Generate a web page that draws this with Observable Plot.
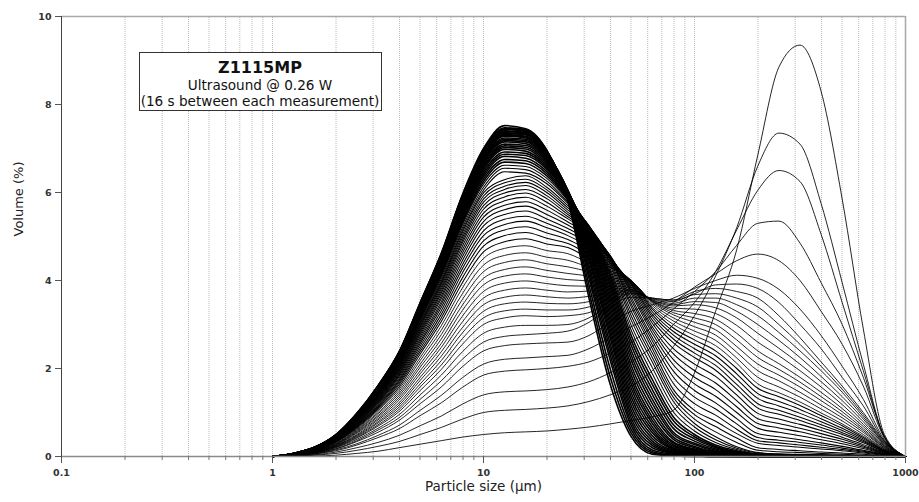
<!DOCTYPE html>
<html><head><meta charset="utf-8">
<script src="https://cdn.jsdelivr.net/npm/d3@7"></script>
<script src="https://cdn.jsdelivr.net/npm/@observablehq/plot@0.6"></script>
<style>
body{margin:0;background:#fff;}
#wrap{position:relative;width:919px;height:502px;}
</style></head><body><div id="wrap"></div><script>
// Size classes (µm)
const sizes = [1, 1.259, 1.585, 1.995, 2.512, 3.162, 3.981, 5.012, 6.31, 7.943, 10, 12.59, 15.85, 19.95, 25.12, 31.62, 39.81, 50.12, 63.1, 79.43, 100, 125.9, 158.5, 199.5, 251.2, 316.2, 398.1, 501.2, 631, 794.3, 1000];
// Volume (%) of each successive measurement (16 s apart)
const m01 = [0,0,0.01,0.03,0.07,0.12,0.2,0.28,0.36,0.44,0.5,0.54,0.56,0.58,0.62,0.67,0.74,0.82,0.9,1.05,1.9,3.3,4.7,6.85,8.85,9.35,8.3,5.85,2.9,0.5,0];
const m02 = [0,0.01,0.03,0.07,0.14,0.23,0.34,0.5,0.66,0.85,1.0,1.05,1.07,1.1,1.15,1.25,1.4,1.6,1.95,2.5,3.2,4.1,5.2,6.6,7.35,7.1,5.75,3.95,2.1,0.45,0];
const m03 = [0,0.01,0.04,0.1,0.2,0.32,0.48,0.7,0.92,1.19,1.4,1.47,1.49,1.52,1.58,1.7,1.9,2.15,2.5,3.0,3.5,4.2,5.15,6.05,6.5,6.25,5.05,3.5,1.95,0.45,0];
const m04 = [0,0.02,0.06,0.13,0.26,0.43,0.63,0.93,1.22,1.57,1.85,1.94,1.97,2.0,2.05,2.15,2.35,2.6,2.95,3.35,3.75,4.2,4.8,5.3,5.35,4.85,3.95,3.0,1.8,0.45,0];
const m05 = [0,0.02,0.06,0.15,0.29,0.48,0.71,1.05,1.39,1.79,2.1,2.21,2.24,2.27,2.3,2.45,2.7,2.95,3.2,3.5,3.85,4.15,4.45,4.6,4.45,4.0,3.3,2.55,1.6,0.42,0];
const m06 = [0,0.02,0.07,0.17,0.34,0.55,0.82,1.2,1.58,2.04,2.4,2.52,2.56,2.58,2.6,2.75,3.05,3.3,3.45,3.6,3.82,4.0,4.12,4.05,3.8,3.35,2.75,2.05,1.3,0.38,0];
const m07 = [0,0.03,0.08,0.18,0.36,0.6,0.88,1.3,1.72,2.21,2.6,2.73,2.77,2.8,2.85,3.05,3.4,3.62,3.6,3.55,3.7,3.9,3.92,3.82,3.5,3.0,2.45,1.8,1.15,0.35,0];
const m08 = [0,0.03,0.08,0.2,0.39,0.64,0.95,1.4,1.85,2.38,2.8,2.94,2.98,2.98,3.0,3.15,3.45,3.7,3.6,3.56,3.75,3.82,3.75,3.6,3.2,2.7,2.15,1.6,1.0,0.35,0];
const m09 = [0,0.03,0.09,0.21,0.42,0.69,1.02,1.5,1.98,2.55,3.0,3.15,3.2,3.18,3.2,3.27,3.52,3.72,3.59,3.52,3.68,3.7,3.6,3.4,3.0,2.55,2.05,1.53,0.95,0.33,0];
const m10 = [0,0.03,0.09,0.22,0.44,0.72,1.07,1.58,2.08,2.68,3.15,3.31,3.35,3.33,3.33,3.4,3.59,3.75,3.58,3.48,3.6,3.6,3.45,3.2,2.82,2.4,1.95,1.46,0.9,0.31,0];
const m11 = [0,0.03,0.1,0.23,0.46,0.76,1.12,1.65,2.18,2.81,3.3,3.47,3.51,3.48,3.47,3.52,3.66,3.78,3.56,3.45,3.52,3.5,3.3,3.0,2.64,2.25,1.82,1.36,0.85,0.3,0];
const m12 = [0,0.03,0.1,0.24,0.48,0.79,1.17,1.73,2.28,2.93,3.45,3.62,3.67,3.63,3.6,3.64,3.72,3.8,3.55,3.42,3.45,3.38,3.15,2.8,2.46,2.1,1.7,1.27,0.79,0.28,0];
const m13 = [0,0.04,0.11,0.25,0.5,0.83,1.22,1.8,2.38,3.06,3.6,3.78,3.83,3.78,3.74,3.76,3.79,3.84,3.54,3.37,3.35,3.25,2.98,2.6,2.29,1.95,1.58,1.18,0.73,0.26,0];
const m14 = [0,0.04,0.11,0.26,0.53,0.86,1.28,1.88,2.48,3.19,3.75,3.94,3.99,3.93,3.88,3.87,3.86,3.88,3.53,3.32,3.25,3.12,2.8,2.4,2.11,1.8,1.46,1.09,0.68,0.24,0];
const m15 = [0,0.04,0.12,0.27,0.55,0.9,1.33,1.95,2.57,3.32,3.9,4.1,4.15,4.08,4.02,3.99,3.93,3.92,3.52,3.27,3.15,3.0,2.65,2.25,1.98,1.69,1.36,1.02,0.63,0.23,0];
const m16 = [0,0.04,0.12,0.28,0.57,0.93,1.38,2.03,2.67,3.44,4.05,4.25,4.31,4.23,4.16,4.1,4.0,3.95,3.5,3.22,3.05,2.88,2.5,2.1,1.85,1.58,1.27,0.95,0.59,0.21,0];
const m17 = [0,0.04,0.13,0.29,0.59,0.97,1.43,2.1,2.77,3.57,4.2,4.41,4.47,4.38,4.31,4.2,4.07,3.97,3.47,3.15,2.95,2.76,2.37,1.95,1.72,1.46,1.17,0.88,0.55,0.2,0];
const m18 = [0,0.04,0.13,0.3,0.61,1.0,1.48,2.18,2.87,3.7,4.35,4.57,4.63,4.53,4.46,4.3,4.15,3.99,3.43,3.08,2.85,2.64,2.24,1.8,1.58,1.35,1.08,0.81,0.5,0.18,0];
const m19 = [0,0.05,0.14,0.32,0.63,1.04,1.53,2.25,2.97,3.83,4.5,4.73,4.79,4.68,4.61,4.4,4.22,4.0,3.39,3.0,2.75,2.52,2.12,1.65,1.45,1.24,0.99,0.74,0.46,0.17,0];
const m20 = [0,0.05,0.14,0.33,0.65,1.07,1.58,2.33,3.07,3.95,4.65,4.88,4.95,4.83,4.75,4.5,4.3,4.0,3.35,2.92,2.65,2.4,2.0,1.55,1.36,1.16,0.93,0.7,0.43,0.15,0];
const m21 = [0,0.05,0.14,0.33,0.67,1.1,1.63,2.39,3.15,4.06,4.78,5.02,5.09,4.96,4.84,4.59,4.35,3.98,3.29,2.84,2.55,2.29,1.88,1.43,1.25,1.07,0.86,0.64,0.4,0.14,0];
const m22 = [0,0.05,0.15,0.34,0.69,1.13,1.67,2.45,3.23,4.17,4.9,5.15,5.22,5.08,4.93,4.68,4.4,3.95,3.23,2.76,2.45,2.18,1.76,1.32,1.15,0.98,0.79,0.59,0.37,0.13,0];
const m23 = [0,0.05,0.15,0.35,0.7,1.15,1.71,2.51,3.31,4.27,5.02,5.27,5.35,5.2,5.02,4.77,4.45,3.93,3.17,2.67,2.35,2.07,1.64,1.2,1.05,0.89,0.72,0.54,0.34,0.12,0];
const m24 = [0,0.05,0.15,0.36,0.72,1.18,1.74,2.57,3.39,4.36,5.13,5.39,5.46,5.3,5.1,4.85,4.5,3.9,3.1,2.58,2.25,1.96,1.53,1.1,0.96,0.82,0.66,0.5,0.31,0.11,0];
const m25 = [0,0.05,0.16,0.37,0.73,1.21,1.78,2.62,3.46,4.45,5.24,5.5,5.58,5.4,5.18,4.91,4.52,3.85,3.03,2.45,2.1,1.82,1.4,0.98,0.85,0.73,0.59,0.44,0.27,0.1,0];
const m26 = [0,0.05,0.16,0.37,0.75,1.23,1.82,2.67,3.52,4.54,5.34,5.61,5.69,5.5,5.26,4.97,4.54,3.8,2.95,2.33,1.95,1.67,1.27,0.86,0.75,0.64,0.52,0.39,0.24,0.09,0];
const m27 = [0,0.05,0.16,0.38,0.76,1.25,1.85,2.72,3.59,4.62,5.44,5.71,5.79,5.6,5.33,5.04,4.56,3.75,2.88,2.2,1.8,1.52,1.13,0.75,0.65,0.56,0.45,0.34,0.21,0.08,0];
const m28 = [0,0.06,0.17,0.39,0.77,1.27,1.88,2.77,3.65,4.7,5.53,5.81,5.89,5.69,5.4,5.1,4.57,3.7,2.8,2.08,1.65,1.37,1.0,0.64,0.55,0.47,0.38,0.29,0.18,0.07,0];
const m29 = [0,0.06,0.17,0.39,0.79,1.29,1.91,2.81,3.71,4.78,5.62,5.9,5.99,5.78,5.45,5.13,4.56,3.62,2.71,1.94,1.5,1.22,0.86,0.52,0.45,0.38,0.31,0.23,0.14,0.06,0];
const m30 = [0,0.06,0.17,0.4,0.8,1.31,1.94,2.85,3.76,4.85,5.7,5.99,6.07,5.86,5.5,5.16,4.54,3.55,2.63,1.8,1.35,1.08,0.74,0.43,0.37,0.32,0.26,0.19,0.12,0.05,0];
const m31 = [0,0.06,0.17,0.4,0.81,1.33,1.97,2.89,3.81,4.91,5.78,6.07,6.16,5.93,5.55,5.19,4.52,3.47,2.54,1.66,1.2,0.94,0.62,0.36,0.31,0.26,0.21,0.16,0.1,0.04,0];
const m32 = [0,0.06,0.18,0.41,0.82,1.35,1.99,2.93,3.86,4.97,5.85,6.14,6.23,6.0,5.6,5.22,4.5,3.4,2.45,1.52,1.05,0.8,0.52,0.3,0.25,0.21,0.17,0.13,0.08,0.03,0];
const m33 = [0,0.06,0.18,0.41,0.83,1.36,2.01,2.96,3.91,5.03,5.92,6.22,6.3,6.06,5.65,5.23,4.45,3.3,2.35,1.43,0.95,0.68,0.42,0.2,0.16,0.13,0.1,0.08,0.05,0.02,0];
const m34 = [0,0.06,0.18,0.42,0.84,1.38,2.04,3.0,3.95,5.09,5.99,6.29,6.38,6.12,5.7,5.24,4.4,3.2,2.25,1.34,0.85,0.56,0.32,0.14,0.11,0.09,0.07,0.05,0.03,0.01,0];
const m35 = [0,0.06,0.18,0.42,0.85,1.39,2.06,3.03,3.99,5.14,6.05,6.47,6.44,6.2,5.75,5.25,4.35,3.1,2.15,1.25,0.75,0.45,0.22,0.09,0.06,0.05,0.04,0.03,0.02,0.01,0];
const m36 = [0,0.06,0.18,0.43,0.86,1.41,2.08,3.06,4.04,5.2,6.12,6.55,6.52,6.26,5.78,5.23,4.28,2.98,2.02,1.13,0.67,0.38,0.19,0.08,0.05,0.04,0.03,0.02,0.02,0.01,0];
const m37 = [0,0.06,0.19,0.43,0.87,1.42,2.1,3.1,4.09,5.26,6.19,6.62,6.59,6.32,5.82,5.22,4.22,2.87,1.88,1.01,0.58,0.32,0.16,0.06,0.04,0.03,0.03,0.02,0.01,0.01,0];
const m38 = [0,0.06,0.19,0.44,0.88,1.44,2.13,3.13,4.13,5.31,6.25,6.69,6.66,6.38,5.85,5.2,4.15,2.75,1.75,0.9,0.5,0.26,0.13,0.05,0.04,0.03,0.02,0.02,0.01,0,0];
const m39 = [0,0.06,0.19,0.44,0.88,1.45,2.15,3.16,4.16,5.36,6.31,6.75,6.72,6.43,5.88,5.18,4.08,2.64,1.64,0.81,0.45,0.23,0.11,0.05,0.03,0.02,0.02,0.01,0.01,0,0];
const m40 = [0,0.06,0.19,0.45,0.89,1.47,2.17,3.19,4.2,5.41,6.37,6.82,6.78,6.48,5.9,5.15,4.0,2.53,1.52,0.72,0.4,0.2,0.1,0.04,0.03,0.02,0.02,0.01,0.01,0,0];
const m41 = [0,0.06,0.19,0.45,0.9,1.48,2.18,3.21,4.24,5.46,6.42,6.87,6.84,6.53,5.93,5.13,3.93,2.41,1.41,0.64,0.35,0.17,0.08,0.03,0.02,0.02,0.01,0.01,0,0,0];
const m42 = [0,0.06,0.19,0.45,0.91,1.49,2.2,3.24,4.27,5.5,6.47,6.92,6.89,6.57,5.95,5.1,3.85,2.3,1.3,0.55,0.3,0.14,0.07,0.03,0.02,0.01,0.01,0.01,0,0,0];
const m43 = [0,0.07,0.2,0.46,0.91,1.5,2.22,3.26,4.3,5.54,6.52,6.98,6.94,6.61,5.97,5.06,3.76,2.19,1.2,0.5,0.27,0.12,0.06,0.02,0.02,0.01,0.01,0,0,0,0];
const m44 = [0,0.07,0.2,0.46,0.92,1.51,2.23,3.28,4.33,5.58,6.56,7.02,6.99,6.65,5.99,5.03,3.68,2.07,1.1,0.44,0.23,0.1,0.05,0.02,0.01,0.01,0,0,0,0,0];
const m45 = [0,0.07,0.2,0.46,0.92,1.52,2.24,3.3,4.36,5.61,6.6,7.06,7.03,6.69,6.01,4.99,3.59,1.96,1.0,0.39,0.2,0.09,0.04,0.02,0.01,0.01,0,0,0,0,0];
const m46 = [0,0.07,0.2,0.46,0.93,1.53,2.26,3.32,4.38,5.64,6.64,7.1,7.07,6.72,6.02,4.95,3.5,1.85,0.9,0.33,0.17,0.07,0.03,0.01,0.01,0,0,0,0,0,0];
const m47 = [0,0.07,0.2,0.47,0.94,1.54,2.27,3.34,4.41,5.68,6.68,7.15,7.11,6.75,6.03,4.9,3.4,1.75,0.82,0.3,0.15,0.06,0.03,0.01,0,0,0,0,0,0,0];
const m48 = [0,0.07,0.2,0.47,0.94,1.54,2.28,3.36,4.43,5.7,6.71,7.18,7.15,6.78,6.04,4.85,3.3,1.65,0.75,0.26,0.13,0.05,0.02,0.01,0,0,0,0,0,0,0];
const m49 = [0,0.07,0.2,0.47,0.94,1.55,2.29,3.37,4.45,5.73,6.74,7.21,7.18,6.8,6.04,4.8,3.2,1.55,0.67,0.23,0.12,0.05,0.02,0.01,0,0,0,0,0,0,0];
const m50 = [0,0.07,0.2,0.47,0.95,1.56,2.3,3.39,4.47,5.75,6.77,7.24,7.21,6.83,6.05,4.75,3.1,1.45,0.6,0.2,0.1,0.04,0.02,0.01,0,0,0,0,0,0,0];
const m51 = [0,0.07,0.2,0.48,0.95,1.56,2.31,3.4,4.49,5.78,6.8,7.28,7.24,6.85,6.04,4.68,3.0,1.35,0.54,0.18,0.09,0.03,0.01,0,0,0,0,0,0,0,0];
const m52 = [0,0.07,0.2,0.48,0.95,1.57,2.32,3.41,4.5,5.8,6.82,7.3,7.26,6.87,6.03,4.6,2.9,1.25,0.47,0.16,0.07,0.03,0.01,0,0,0,0,0,0,0,0];
const m53 = [0,0.07,0.21,0.48,0.96,1.57,2.33,3.42,4.51,5.81,6.84,7.32,7.28,6.88,6.02,4.53,2.8,1.15,0.41,0.14,0.06,0.02,0.01,0,0,0,0,0,0,0,0];
const m54 = [0,0.07,0.21,0.48,0.96,1.58,2.33,3.43,4.53,5.83,6.86,7.34,7.31,6.9,6.0,4.45,2.7,1.05,0.35,0.12,0.05,0.02,0.01,0,0,0,0,0,0,0,0];
const m55 = [0,0.07,0.21,0.48,0.96,1.58,2.34,3.44,4.54,5.85,6.88,7.36,7.33,6.91,5.98,4.35,2.57,0.96,0.3,0.1,0.04,0.01,0,0,0,0,0,0,0,0,0];
const m56 = [0,0.07,0.21,0.48,0.97,1.59,2.35,3.45,4.55,5.87,6.9,7.38,7.35,6.92,5.95,4.25,2.45,0.87,0.25,0.08,0.03,0.01,0,0,0,0,0,0,0,0,0];
const m57 = [0,0.07,0.21,0.48,0.97,1.59,2.35,3.46,4.57,5.88,6.92,7.4,7.37,6.93,5.93,4.15,2.32,0.78,0.2,0.07,0.02,0,0,0,0,0,0,0,0,0,0];
const m58 = [0,0.07,0.21,0.49,0.97,1.6,2.36,3.47,4.58,5.9,6.94,7.43,7.39,6.94,5.9,4.05,2.2,0.7,0.15,0.05,0.02,0,0,0,0,0,0,0,0,0,0];
const m59 = [0,0.07,0.21,0.49,0.97,1.6,2.37,3.48,4.59,5.92,6.96,7.45,7.41,6.95,5.87,3.9,2.0,0.61,0.11,0.03,0.01,0,0,0,0,0,0,0,0,0,0];
const m60 = [0,0.07,0.21,0.49,0.98,1.61,2.37,3.49,4.61,5.93,6.98,7.47,7.43,6.95,5.83,3.75,1.82,0.53,0.08,0.02,0,0,0,0,0,0,0,0,0,0,0];
const m61 = [0,0.07,0.21,0.49,0.98,1.61,2.38,3.5,4.62,5.95,7.0,7.52,7.45,6.96,5.8,3.6,1.65,0.45,0.05,0.01,0,0,0,0,0,0,0,0,0,0,0];

const measurements = [m01,m02,m03,m04,m05,m06,m07,m08,m09,m10,m11,m12,m13,m14,m15,m16,m17,m18,m19,m20,
  m21,m22,m23,m24,m25,m26,m27,m28,m29,m30,m31,m32,m33,m34,m35,m36,m37,m38,m39,m40,
  m41,m42,m43,m44,m45,m46,m47,m48,m49,m50,m51,m52,m53,m54,m55,m56,m57,m58,m59,m60,m61];

const xTicks = [0.1, 1, 10, 100, 1000];
const yTicks = [0, 2, 4, 6, 8, 10];
const xTitle = "Particle size (µm)";
const yTitle = "Volume (%)";
const noteLines = ["Z1115MP", "Ultrasound @ 0.26 W", "(16 s between each measurement)"];

const rows = measurements.flatMap((vals, i) => vals.map((v, j) => ({size: sizes[j], vol: v, run: i + 1})));
const early = rows.filter(d => d.run < 20);
const middle = rows.filter(d => d.run >= 20 && d.run < 38);
const late = rows.filter(d => d.run >= 38);
const gridX = [-1, 0, 1, 2].flatMap(e => d3.range(1, 10).map(k => +(k * Math.pow(10, e)).toPrecision(6))).concat([1000]);
const minorX = gridX.filter(v => !xTicks.some(t => Math.abs(t - v) < 1e-9));
const lineOpts = {x: "size", y: "vol", z: "run", stroke: "#000", curve: "monotone-x"};

const chart = Plot.plot({
  width: 919, height: 502,
  marginLeft: 61, marginRight: 14, marginTop: 16, marginBottom: 46,
  style: {fontFamily: "DejaVu Sans", background: "#fff", color: "#222", overflow: "visible"},
  x: {type: "log", domain: [0.1, 1000]},
  y: {domain: [0, 10]},
  marks: [
    Plot.ruleX(gridX, {y1: 0, y2: 10, stroke: "#bcbcbc", strokeWidth: 1, strokeDasharray: "1,1"}),
    Plot.line(late, {...lineOpts, strokeWidth: 1.6}),
    Plot.line(middle, {...lineOpts, strokeWidth: 1.05}),
    Plot.line(early, {...lineOpts, strokeWidth: 1.0, strokeOpacity: 0.85}),
    Plot.ruleY([10], {stroke: "#a8a8a8", strokeWidth: 1.5}),
    Plot.ruleX([1000], {stroke: "#a8a8a8", strokeWidth: 1.5}),
    Plot.ruleY([0], {stroke: "#8a8a8a", strokeWidth: 1.5}),
    Plot.ruleX([0.1], {stroke: "#444", strokeWidth: 1}),
    Plot.axisY(yTicks, {tickSize: 6, tickPadding: 4, fontSize: 9.5, fontWeight: "bold", label: null, stroke: "#555", fill: "#333"}),
    Plot.axisX(xTicks, {tickSize: 7, tickPadding: 6, fontSize: 9.5, fontWeight: "bold", tickFormat: d => String(d), label: null, stroke: "#555", fill: "#333"}),
    Plot.axisX(minorX, {tickSize: 4, tickFormat: () => "", label: null, stroke: "#777"}),
    Plot.text([xTitle], {frameAnchor: "bottom", dy: 34, fontSize: 13.5, fill: "#222", text: d => d}),
    Plot.text([yTitle], {frameAnchor: "left", dx: -43, rotate: -90, fontSize: 13, fill: "#222", text: d => d})
  ]
});
document.getElementById("wrap").appendChild(chart);

// Annotation box (layout, in pixels)
const svg = d3.select(chart);
const g = svg.append("g").attr("font-family", "DejaVu Sans").attr("text-anchor", "middle").attr("fill", "#111");
g.append("rect").attr("x", 139.5).attr("y", 52.5).attr("width", 242).attr("height", 58).attr("fill", "#fff").attr("stroke", "#333").attr("stroke-width", 1);
g.append("text").attr("x", 260).attr("y", 73).attr("font-size", 16).attr("font-weight", "bold").text(noteLines[0]);
g.append("text").attr("x", 260).attr("y", 90).attr("font-size", 13.6).text(noteLines[1]);
g.append("text").attr("x", 260).attr("y", 106).attr("font-size", 13.6).text(noteLines[2]);
</script></body></html>
